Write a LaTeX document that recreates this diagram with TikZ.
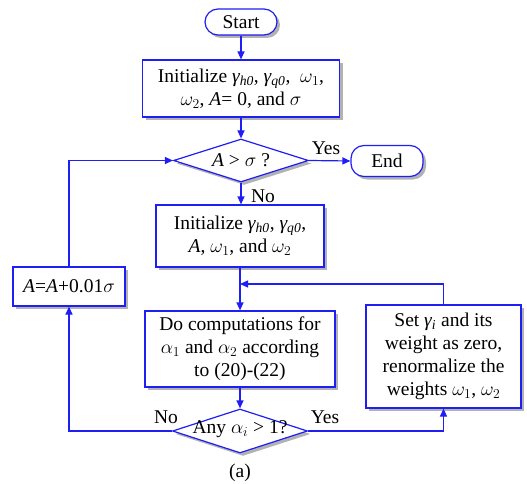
\RequirePackage{fix-cm}
\documentclass[tikz,border=0pt]{standalone}
\usepackage{fontspec}
\setmainfont{Liberation Serif}
\usetikzlibrary{shapes.geometric,shadows,arrows.meta}
\definecolor{fb}{RGB}{30,30,245}
\tikzset{
  shd/.style={drop shadow={shadow xshift=3pt,shadow yshift=-3pt,fill=black!30,opacity=1}},
  box/.style={draw=fb,line width=1.2pt,fill=white,align=center,inner sep=0pt,shd},
  term/.style={box,rounded corners=13pt},
  dia/.style={diamond,draw=fb,line width=1.2pt,fill=white,inner sep=0pt,shd},
  arr/.style={draw=fb,line width=1.2pt,-{Triangle[length=8pt,width=7pt]}},
  lbl/.style={inner sep=0pt}
}
\begin{document}
\begin{tikzpicture}[x=1pt,y=-1pt,font=\fontsize{19.5}{23}\selectfont]
\useasboundingbox (0,0) rectangle (527,484);
\node[term,minimum width=72pt,minimum height=26pt] (start) at (241,22) {Start};
\node[box,minimum width=197pt,minimum height=57pt] (init1) at (241,88.5)
  {Initialize \textit{γ\textsubscript{h0}}, \textit{γ\textsubscript{q0}}, \ $\omega_1$,\\ $\omega_2$, \textit{A}= 0, and $\sigma$};
\node[dia,minimum width=135pt,minimum height=43pt] (d1) at (241,160.5) {};
\node[lbl] (d1t) at (241,160.5) {\textit{A} > $\sigma$ ?};
\node[term,minimum width=72pt,minimum height=31pt] (end) at (387,161) {End};
\node[box,minimum width=168pt,minimum height=62pt] (init2) at (240,236)
  {Initialize \textit{γ\textsubscript{h0}}, \textit{γ\textsubscript{q0}},\\ \textit{A}, $\omega_1$, and $\omega_2$};
\node[box,minimum width=112pt,minimum height=39pt] (abox) at (69,286.5) {\textit{A}=\textit{A}+0.01$\sigma$};
\node[box,minimum width=190pt,minimum height=76pt] (comp) at (240,349)
  {Do computations for\\ $\alpha_1$ and $\alpha_2$ according\\ to (20)-(22)};
\node[box,minimum width=155pt,minimum height=103pt] (rb) at (443.5,356.5)
  {Set \textit{γ\textsubscript{i}} and its\\ weight as zero,\\ renormalize the\\ weights $\omega_1$, $\omega_2$};
\node[dia,minimum width=135pt,minimum height=44pt] (d2) at (240,431) {};
\node[lbl] (d2t) at (240,429) {Any $\alpha_i$ > 1?};
\coordinate (m) at (240,284);
\draw[arr] (start) -- (init1);
\draw[arr] (init1) -- (d1);
\draw[arr] (d1.south) -- (d1.south |- init2.north);
\draw[arr] (d1.east) -- (end.west);
\draw[arr] (init2) -- (comp);
\draw[arr] (comp) -- (d2);
\draw[arr] (rb.north) |- (m);
\draw[arr] (d2.west) -| (abox.south);
\draw[arr] (abox.north) |- (d1.west);
\draw[arr] (d2.east) -| (rb.south);
\node[lbl] (y1) at (326,148) {Yes};
\node[lbl] (n1) at (263,196) {No};
\node[lbl] (n2) at (166,417) {No};
\node[lbl] (y2) at (325,417) {Yes};
\node[lbl] (cap) at (240,473) {(a)};
\end{tikzpicture}
\end{document}
